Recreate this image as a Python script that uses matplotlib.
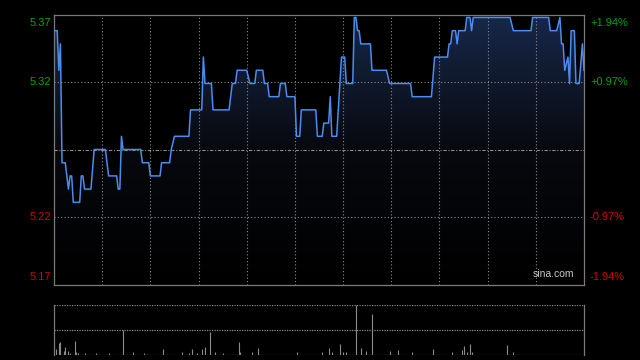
import numpy as np
import matplotlib
matplotlib.use("Agg")
import matplotlib.pyplot as plt
from matplotlib.patches import Polygon
from matplotlib.colors import LinearSegmentedColormap

# intraday price vertices (minute from open, price)
minutes = [0, 2, 3, 4, 5, 7, 9, 10, 11, 12, 16, 17, 18, 19, 23, 25, 32, 34, 39, 40,
           41, 42, 43, 54, 55, 59, 60, 66, 67, 72, 73, 75, 84, 85, 92, 93, 94, 98, 99, 109,
           111, 113, 114, 120, 122, 125, 126, 130, 131, 133, 134, 140, 141, 144, 145, 150, 151, 153, 154, 163,
           164, 167, 168, 171, 172, 173, 176, 179, 181, 182, 186, 187, 188, 189, 190, 191, 197, 198, 207, 209,
           222, 223, 235, 237, 245, 246, 247, 248, 250, 251, 252, 256, 257, 259, 260, 261, 284, 286, 297, 298,
           308, 309, 313, 315, 316, 317, 318, 320, 321, 322, 324, 325, 327, 329, 330]
prices = [5.36, 5.36, 5.33, 5.35, 5.26, 5.26, 5.24, 5.25, 5.25, 5.23, 5.23, 5.25, 5.25, 5.24, 5.24, 5.27, 5.27, 5.25, 5.25, 5.24,
          5.24, 5.28, 5.27, 5.27, 5.26, 5.26, 5.25, 5.25, 5.26, 5.26, 5.27, 5.28, 5.28, 5.30, 5.30, 5.34, 5.32, 5.32, 5.30, 5.30,
          5.32, 5.32, 5.33, 5.33, 5.32, 5.32, 5.33, 5.33, 5.32, 5.32, 5.31, 5.31, 5.32, 5.32, 5.31, 5.31, 5.28, 5.28, 5.30, 5.30,
          5.28, 5.28, 5.29, 5.29, 5.31, 5.28, 5.28, 5.34, 5.34, 5.32, 5.32, 5.37, 5.37, 5.36, 5.36, 5.35, 5.35, 5.33, 5.33, 5.32,
          5.32, 5.31, 5.31, 5.34, 5.34, 5.35, 5.35, 5.36, 5.36, 5.35, 5.36, 5.36, 5.37, 5.37, 5.36, 5.37, 5.37, 5.36, 5.36, 5.37,
          5.37, 5.36, 5.36, 5.37, 5.35, 5.35, 5.33, 5.34, 5.32, 5.36, 5.36, 5.32, 5.32, 5.35, 5.33]

# volume bars (minute, relative volume)
vol_minutes = [1, 3, 4, 6, 7, 9, 10, 13, 14, 15, 19, 26, 34, 43, 49, 56, 68, 80, 84, 86,
               89, 92, 94, 97, 100, 105, 115, 116, 123, 127, 151, 167, 171, 173, 178, 180, 182, 188, 191, 194,
               198, 209, 214, 223, 236, 248, 254, 255, 257, 259, 260, 282, 286]
vol_values = [11, 24, 25, 7, 15, 7, 4, 27, 5, 3, 3, 3, 3, 50, 5, 3, 11, 5, 3, 11,
              3, 11, 15, 45, 5, 3, 25, 5, 5, 13, 5, 5, 13, 5, 21, 5, 5, 100, 13, 7,
              82, 7, 9, 5, 11, 5, 9, 17, 5, 21, 5, 19, 5]

prev_close = 5.27
pct_levels = [1.94, 0.97, -0.97, -1.94]
left_labels = ["5.37", "5.32", "5.22", "5.17"]
right_labels = ["+1.94%", "+0.97%", "-0.97%", "-1.94%"]

green = "#00a400"
red = "#d00000"
grid_c = "#8a8a8a"
frame_c = "#7a7a7a"

levels = [prev_close * (1 + p / 100) for p in pct_levels]
y_top, y_bot = levels[0], levels[-1]

fig = plt.figure(figsize=(6.4, 3.6), dpi=100, facecolor="black")
ax = fig.add_axes([54 / 640, 1 - 284.5 / 360, 530 / 640, 270 / 360])
ax.set_facecolor("black")

# gradient fill under the line
cmap = LinearSegmentedColormap.from_list("fill", ["#000000", "#07090f", "#18284a"])
grad = np.linspace(1, 0, 256).reshape(-1, 1)
im = ax.imshow(grad, cmap=cmap, aspect="auto", extent=[0, 330, y_bot, y_top],
               origin="upper", zorder=1)
verts = [(minutes[0], y_bot)] + list(zip(minutes, prices)) + [(minutes[-1], y_bot)]
clip = Polygon(verts, closed=True, facecolor="none", edgecolor="none", transform=ax.transData)
ax.add_patch(clip)
im.set_clip_path(clip)

ax.plot(minutes, prices, color="#4a8cf0", lw=1.1, zorder=3)

for m in range(30, 330, 30):
    ax.axvline(m, color=grid_c, lw=0.8, ls=(0, (1, 2)), zorder=2)
for p in [levels[1], levels[2]]:
    ax.axhline(p, color=grid_c, lw=0.8, ls=(0, (1, 2)), zorder=2)
ax.axhline(prev_close, color=grid_c, lw=0.8, ls=(0, (3, 1.5, 1, 1.5)), zorder=2)

ax.set_xlim(0, 330)
ax.set_ylim(y_bot, y_top)
ax.set_xticks([])
ax.set_yticks([])
for s in ax.spines.values():
    s.set_color(frame_c)
    s.set_linewidth(0.9)

fnt = dict(family="Liberation Sans", fontsize=8)
vas = ["top", "center", "center", "bottom"]
offs = [-3, 0, 0, 3]
for t, lab, rlab, va, o in zip(levels, left_labels, right_labels, vas, offs):
    c = green if t > prev_close else red
    ax.annotate(lab, (0, t), xycoords=("axes fraction", "data"), xytext=(-3, o),
                textcoords="offset pixels", ha="right", va=va, color=c, **fnt)
    ax.annotate(rlab, (1, t), xycoords=("axes fraction", "data"), xytext=(6, o),
                textcoords="offset pixels", ha="left", va=va, color=c, **fnt)

ax.text(0.982, 0.02, "sina.com", transform=ax.transAxes, ha="right", va="bottom",
        color="#c8c8c8", family="Liberation Sans", fontsize=7.5)

# volume panel
vax = fig.add_axes([54 / 640, 1 - 355 / 360, 530 / 640, 50.5 / 360])
vax.set_facecolor("black")
vax.vlines(vol_minutes, 0, vol_values, color="#8c8c8c", lw=0.8)
vax.set_xlim(0, 330)
vax.set_ylim(0, 100)
vax.axhline(100, color=grid_c, lw=0.9, ls=(0, (1, 1)))
vax.axhline(50, color=grid_c, lw=0.9, ls=(0, (1, 1)))
vax.axhline(0.5, color="#6a6a6a", lw=0.9, ls=(0, (1, 1)))
vax.set_xticks([])
vax.set_yticks([])
for k in ["top", "bottom"]:
    vax.spines[k].set_visible(False)
for k in ["left", "right"]:
    vax.spines[k].set_color(frame_c)
    vax.spines[k].set_linewidth(0.9)

fig.savefig("out.png", dpi=100, facecolor="black")
